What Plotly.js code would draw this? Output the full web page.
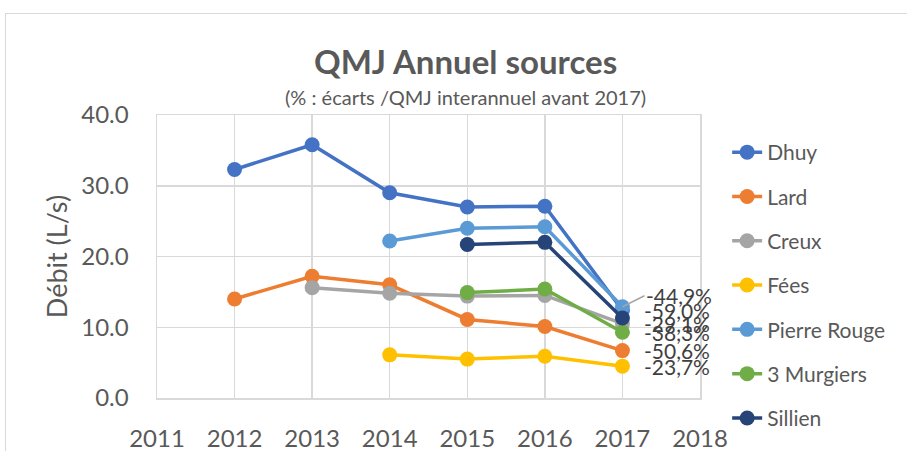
<!DOCTYPE html>
<html>
<head>
<meta charset="utf-8">
<script src="https://cdn.plot.ly/plotly-3.0.1.min.js"></script>
<style>
html,body{margin:0;padding:0;background:#fff;}
#frame{position:absolute;left:5px;top:13px;width:920px;height:460px;border:1px solid #d9d9d9;box-sizing:border-box;}
#chart{position:absolute;left:0;top:0;width:907px;height:451px;}
</style>
</head>
<body>
<div id="frame"></div>
<div id="chart"></div>
<script>
const years = [2012, 2013, 2014, 2015, 2016, 2017];
const dhuy = [32.3, 35.8, 29.0, 27.0, 27.1, 12.4];
const lard = [14.0, 17.2, 16.0, 11.1, 10.1, 6.7];
const creux = [null, 15.6, 14.8, 14.4, 14.5, 10.5];
const fees = [null, null, 6.1, 5.5, 5.9, 4.5];
const pierreRouge = [null, null, 22.2, 24.0, 24.2, 12.9];
const murgiers = [null, null, null, 14.9, 15.4, 9.3];
const sillien = [null, null, null, 21.7, 22.0, 11.3];

const seriesNames = ["Dhuy", "Lard", "Creux", "Fées", "Pierre Rouge", "3 Murgiers", "Sillien"];
const seriesData = [dhuy, lard, creux, fees, pierreRouge, murgiers, sillien];
const colors = ["#4472C4", "#ED7D31", "#A5A5A5", "#FFC000", "#5B9BD5", "#70AD47", "#264478"];
const labels = ["-59,0%", "-50,6%", "-29,1%", "-23,7%", "-44,9%", "-38,3%", null];

const FONT = "Lato, 'Open Sans', sans-serif";

const traces = seriesNames.map((n, i) => ({
  x: years,
  y: seriesData[i],
  name: n,
  type: "scatter",
  mode: "lines+markers",
  legendgroup: "g" + i,
  line: {color: colors[i], width: 3.5},
  marker: {color: colors[i], size: 15},
  connectgaps: false
}));

const annotations = [];
seriesNames.forEach((n, i) => {
  if (!labels[i]) return;
  const yv = seriesData[i][seriesData[i].length - 1];
  const xv = years[years.length - 1];
  if (n === "Pierre Rouge") {
    annotations.push({
      x: xv, y: yv, xref: "x", yref: "y",
      text: labels[i], showarrow: true, arrowhead: 0, arrowwidth: 1.5,
      arrowcolor: "#A5A5A5", ax: 22, ay: -11, xanchor: "left", yanchor: "middle",
      font: {family: FONT, size: 21, color: "#404040"}
    });
  } else {
    annotations.push({
      x: xv, y: yv, xref: "x", yref: "y",
      text: labels[i], showarrow: false, xanchor: "left", yanchor: "middle",
      xshift: 20,
      font: {family: FONT, size: 21, color: "#404040"}
    });
  }
});

annotations.push({
  xref: "paper", yref: "paper", x: 0.569, y: 1.192, xanchor: "center", yanchor: "middle",
  text: "<b>QMJ Annuel sources</b>", showarrow: false,
  font: {family: FONT, size: 33, color: "#595959"}
});
annotations.push({
  xref: "paper", yref: "paper", x: 0.569, y: 1.063, xanchor: "center", yanchor: "middle",
  text: "(% : écarts /QMJ interannuel avant 2017)", showarrow: false,
  font: {family: FONT, size: 20, color: "#595959"}
});

const layout = {
  width: 907, height: 451,
  margin: {l: 157, r: 207, t: 115, b: 49},
  paper_bgcolor: "rgba(0,0,0,0)",
  plot_bgcolor: "rgba(0,0,0,0)",
  font: {family: FONT, color: "#595959"},
  showlegend: true,
  legend: {
    x: 1.05, y: 0.94, xanchor: "left", yanchor: "top",
    font: {family: FONT, size: 21, color: "#595959"},
    tracegroupgap: 14,
    maxheight: 451,
    bgcolor: "rgba(0,0,0,0)"
  },
  xaxis: {
    range: [2011, 2018], dtick: 1, tick0: 2011,
    showgrid: true, gridcolor: "#d9d9d9", gridwidth: 1.5,
    showline: true, mirror: true, linecolor: "#d9d9d9", linewidth: 1.5,
    zeroline: false, ticks: "", ticklabelstandoff: 19,
    tickfont: {family: FONT, size: 24, color: "#595959"},
    fixedrange: true
  },
  yaxis: {
    range: [0, 40], dtick: 10, tickformat: ".1f",
    showgrid: true, gridcolor: "#d9d9d9", gridwidth: 1.5,
    showline: true, mirror: true, linecolor: "#d9d9d9", linewidth: 1.5,
    zeroline: false, ticks: "", ticklabelstandoff: 22,
    tickfont: {family: FONT, size: 24, color: "#595959"},
    title: {text: "Débit (L/s)", font: {family: FONT, size: 27, color: "#595959"}, standoff: 6},
    fixedrange: true
  },
  annotations: annotations
};

Plotly.newPlot("chart", traces, layout, {displayModeBar: false, staticPlot: true});
</script>
</body>
</html>
